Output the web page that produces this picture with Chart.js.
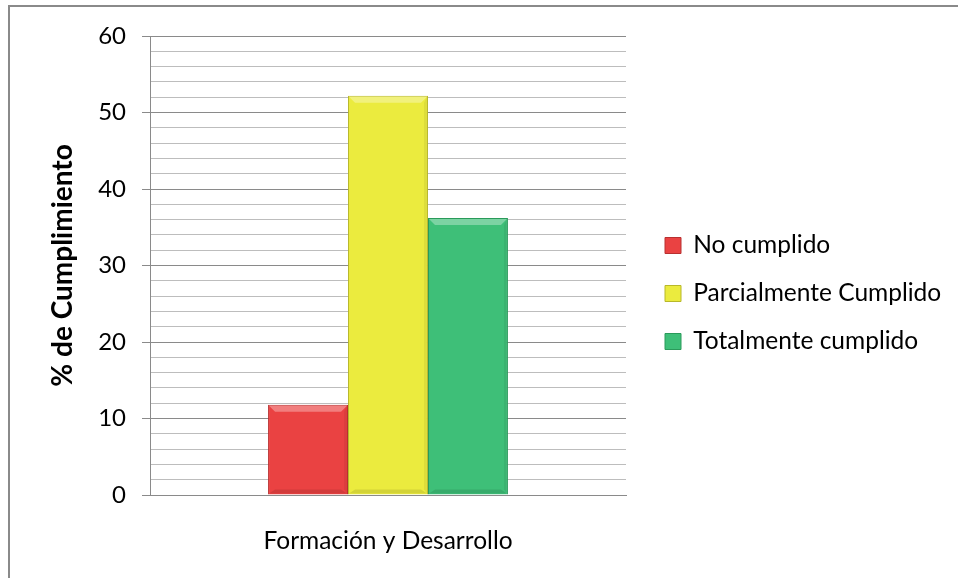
<!DOCTYPE html>
<html>
<head>
<meta charset="utf-8">
<script src="https://cdn.jsdelivr.net/npm/chart.js@4/dist/chart.umd.min.js"></script>
<style>
  html, body { margin: 0; padding: 0; background: #fff; }
  #wrap { width: 958px; height: 578px; position: relative; }
</style>
</head>
<body>
<div id="wrap"><canvas id="chart" width="958" height="578"></canvas></div>
<script>
// Categories, series and axis values
const categories = ['Formación y Desarrollo'];
const seriesNames = ['No cumplido', 'Parcialmente Cumplido', 'Totalmente cumplido'];
const noCumplido = [11.8];
const parcialmenteCumplido = [52.2];
const totalmenteCumplido = [36.2];
const yMin = 0;
const yMax = 60;
const yMajorStep = 10;
const yMinorStep = 2;

const FONT = "Lato, 'Open Sans', sans-serif";
const LEGEND_SIZE = 24.5;
const LEGEND_PAD = 23.5;
const LEGEND_BOX = 16;
const PLOT_RIGHT = 626;
const CANVAS_W = 958;

const fills   = ['#EA4242', '#EBEB3E', '#3EBF78'];
const borders = ['#B83030', '#B8B82A', '#2A9A5A'];

// Width the legend will take, so the plot can end at a fixed x
const measureCtx = document.createElement('canvas').getContext('2d');
measureCtx.font = LEGEND_SIZE + 'px ' + FONT;
const longestLabel = Math.max(...seriesNames.map(n => measureCtx.measureText(n).width));
const legendWidth = LEGEND_PAD + LEGEND_BOX + LEGEND_SIZE / 2 + longestLabel + 10;
const rightPad = Math.max(0, CANVAS_W - PLOT_RIGHT - legendWidth);

// White page with a thin grey frame along the top and left edges
const framePlugin = {
  id: 'frame',
  beforeDraw(chart) {
    const ctx = chart.ctx;
    ctx.save();
    ctx.fillStyle = '#ffffff';
    ctx.fillRect(0, 0, chart.width, chart.height);
    ctx.strokeStyle = '#8a8a8a';
    ctx.lineWidth = 2;
    ctx.beginPath();
    ctx.moveTo(9, chart.height + 5);
    ctx.lineTo(9, 6);
    ctx.lineTo(chart.width + 5, 6);
    ctx.stroke();
    ctx.restore();
  }
};

// Nudge the legend block away from the plot and up a little
const legendOffset = {
  id: 'legendOffset',
  afterLayout(chart) {
    const lg = chart.legend;
    if (!lg) return;
    const dx = 665 - LEGEND_PAD - lg.left;
    const dy = -13.5;
    lg.left += dx; lg.right += dx;
    lg.top += dy; lg.bottom += dy;
  }
};

// Soft bevel on each bar: light top edge, darker bottom edge
const bevelPlugin = {
  id: 'bevel',
  afterDatasetsDraw(chart) {
    const ctx = chart.ctx;
    chart.data.datasets.forEach((ds, di) => {
      const meta = chart.getDatasetMeta(di);
      meta.data.forEach(bar => {
        const { x, y, base, width } = bar.getProps(['x', 'y', 'base', 'width'], true);
        const l = x - width / 2, r = x + width / 2, t = y, b = base;
        const d = 7;
        ctx.save();
        ctx.fillStyle = 'rgba(255,255,255,0.32)';
        ctx.beginPath();
        ctx.moveTo(l + 1, t + 1); ctx.lineTo(r - 1, t + 1);
        ctx.lineTo(r - d, t + d); ctx.lineTo(l + d, t + d);
        ctx.closePath(); ctx.fill();
        ctx.fillStyle = 'rgba(0,0,0,0.10)';
        ctx.beginPath();
        ctx.moveTo(l + 1, b - 1); ctx.lineTo(r - 1, b - 1);
        ctx.lineTo(r - d, b - d + 2); ctx.lineTo(l + d, b - d + 2);
        ctx.closePath(); ctx.fill();
        ctx.fillStyle = 'rgba(0,0,0,0.06)';
        ctx.beginPath();
        ctx.moveTo(r - 1, t + 1); ctx.lineTo(r - 1, b - 1);
        ctx.lineTo(r - d + 3, b - d + 2); ctx.lineTo(r - d + 3, t + d);
        ctx.closePath(); ctx.fill();
        ctx.restore();
      });
    });
  }
};

const seriesValues = [noCumplido, parcialmenteCumplido, totalmenteCumplido];

new Chart(document.getElementById('chart'), {
  type: 'bar',
  data: {
    labels: categories,
    datasets: seriesNames.map((name, i) => ({
      label: name,
      data: seriesValues[i],
      backgroundColor: fills[i],
      borderColor: borders[i],
      borderWidth: 1,
      categoryPercentage: 0.504,
      barPercentage: 1.0
    }))
  },
  options: {
    responsive: false,
    animation: false,
    devicePixelRatio: 1,
    layout: { padding: { top: 36, left: 40, right: rightPad, bottom: 0 } },
    plugins: {
      legend: {
        position: 'right',
        align: 'center',
        maxWidth: 500,
        labels: {
          color: '#000',
          font: { family: FONT, size: LEGEND_SIZE },
          boxWidth: LEGEND_BOX,
          boxHeight: LEGEND_BOX,
          padding: LEGEND_PAD
        }
      },
      tooltip: { enabled: false }
    },
    scales: {
      x: {
        grid: { display: false, drawTicks: false },
        border: { display: true, color: '#8a8a8a', width: 1 },
        ticks: {
          color: '#000',
          font: { family: FONT, size: 24.5 },
          padding: 31
        },
        afterFit(s) { s.height = 83; }
      },
      y: {
        min: yMin,
        max: yMax,
        z: 1,
        afterFit(s) { s.width = 110; },
        border: { display: true, color: '#8a8a8a', width: 1 },
        grid: {
          color: c => (c.tick && c.tick.value % yMajorStep === 0) ? 'rgba(0,0,0,0.46)' : 'rgba(0,0,0,0.26)',
          tickColor: c => (c.tick && c.tick.value % yMajorStep === 0) ? '#8a8a8a' : 'rgba(0,0,0,0)',
          tickLength: 8,
          lineWidth: 1
        },
        ticks: {
          stepSize: yMinorStep,
          autoSkip: false,
          color: '#000',
          font: { family: FONT, size: 24 },
          padding: 16,
          callback: v => (v % yMajorStep === 0 ? String(v) : '')
        },
        title: {
          display: true,
          text: '% de Cumplimiento',
          color: '#000',
          font: { family: FONT, size: 28, weight: 'bold' },
          padding: { top: 6, bottom: 0 }
        }
      }
    }
  },
  plugins: [framePlugin, legendOffset, bevelPlugin]
});
</script>
</body>
</html>
